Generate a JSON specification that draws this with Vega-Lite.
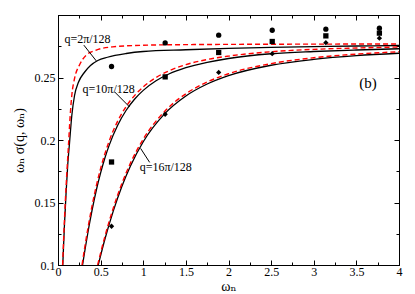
{
  "$schema": "https://vega.github.io/schema/vega-lite/v6.json",
  "width": 341,
  "height": 250,
  "autosize": "none",
  "padding": {"left": 58, "top": 15, "right": 16, "bottom": 29},
  "config": {
    "view": {"stroke": "black", "strokeWidth": 1},
    "font": "'Liberation Serif', 'Times New Roman', 'DejaVu Serif', serif",
    "axis": {"grid": false, "domainColor": "black", "tickColor": "black", "labelColor": "black", "titleColor": "black", "labelFont": "'Liberation Serif', 'Times New Roman', 'DejaVu Serif', serif", "titleFont": "'Liberation Serif', 'Times New Roman', 'DejaVu Serif', serif", "labelFontSize": 12, "titleFontSize": 14, "titleFontWeight": "normal"}
  },
  "datasets": {
    "curves": [
      {"q": "2", "k": "b", "w": 0.056, "v": 0.100},
      {"q": "2", "k": "b", "w": 0.075, "v": 0.131},
      {"q": "2", "k": "b", "w": 0.095, "v": 0.158},
      {"q": "2", "k": "b", "w": 0.115, "v": 0.181},
      {"q": "2", "k": "b", "w": 0.135, "v": 0.1975},
      {"q": "2", "k": "b", "w": 0.162, "v": 0.2196},
      {"q": "2", "k": "b", "w": 0.194, "v": 0.2356},
      {"q": "2", "k": "b", "w": 0.24, "v": 0.2462},
      {"q": "2", "k": "b", "w": 0.311, "v": 0.2542},
      {"q": "2", "k": "b", "w": 0.381, "v": 0.2596},
      {"q": "2", "k": "b", "w": 0.467, "v": 0.2636},
      {"q": "2", "k": "b", "w": 0.58, "v": 0.2662},
      {"q": "2", "k": "b", "w": 0.8, "v": 0.2692},
      {"q": "2", "k": "b", "w": 1.0, "v": 0.2708},
      {"q": "2", "k": "b", "w": 1.5, "v": 0.2722},
      {"q": "2", "k": "b", "w": 2.0, "v": 0.2733},
      {"q": "2", "k": "b", "w": 2.5, "v": 0.2741},
      {"q": "2", "k": "b", "w": 3.0, "v": 0.2747},
      {"q": "2", "k": "b", "w": 3.5, "v": 0.2752},
      {"q": "2", "k": "b", "w": 4.0, "v": 0.2756},
      {"q": "2", "k": "r", "w": 0.054, "v": 0.100},
      {"q": "2", "k": "r", "w": 0.075, "v": 0.135},
      {"q": "2", "k": "r", "w": 0.095, "v": 0.163},
      {"q": "2", "k": "r", "w": 0.11, "v": 0.181},
      {"q": "2", "k": "r", "w": 0.123, "v": 0.196},
      {"q": "2", "k": "r", "w": 0.143, "v": 0.2196},
      {"q": "2", "k": "r", "w": 0.162, "v": 0.2358},
      {"q": "2", "k": "r", "w": 0.194, "v": 0.2492},
      {"q": "2", "k": "r", "w": 0.252, "v": 0.2600},
      {"q": "2", "k": "r", "w": 0.331, "v": 0.2679},
      {"q": "2", "k": "r", "w": 0.448, "v": 0.2719},
      {"q": "2", "k": "r", "w": 0.639, "v": 0.2745},
      {"q": "2", "k": "r", "w": 1.0, "v": 0.2758},
      {"q": "2", "k": "r", "w": 1.5, "v": 0.2763},
      {"q": "2", "k": "r", "w": 2.0, "v": 0.2765},
      {"q": "2", "k": "r", "w": 3.0, "v": 0.2767},
      {"q": "2", "k": "r", "w": 4.0, "v": 0.2768},
      {"q": "10", "k": "b", "w": 0.288, "v": 0.100},
      {"q": "10", "k": "b", "w": 0.32, "v": 0.1136},
      {"q": "10", "k": "b", "w": 0.36, "v": 0.1296},
      {"q": "10", "k": "b", "w": 0.40, "v": 0.1440},
      {"q": "10", "k": "b", "w": 0.45, "v": 0.1600},
      {"q": "10", "k": "b", "w": 0.50, "v": 0.1737},
      {"q": "10", "k": "b", "w": 0.55, "v": 0.1856},
      {"q": "10", "k": "b", "w": 0.60, "v": 0.1957},
      {"q": "10", "k": "b", "w": 0.70, "v": 0.2118},
      {"q": "10", "k": "b", "w": 0.80, "v": 0.2238},
      {"q": "10", "k": "b", "w": 0.90, "v": 0.2328},
      {"q": "10", "k": "b", "w": 1.0, "v": 0.2397},
      {"q": "10", "k": "b", "w": 1.15, "v": 0.2474},
      {"q": "10", "k": "b", "w": 1.3, "v": 0.2528},
      {"q": "10", "k": "b", "w": 1.5, "v": 0.2579},
      {"q": "10", "k": "b", "w": 1.75, "v": 0.2621},
      {"q": "10", "k": "b", "w": 2.0, "v": 0.2652},
      {"q": "10", "k": "b", "w": 2.5, "v": 0.2690},
      {"q": "10", "k": "b", "w": 3.0, "v": 0.2708},
      {"q": "10", "k": "b", "w": 3.5, "v": 0.2720},
      {"q": "10", "k": "b", "w": 4.0, "v": 0.2730},
      {"q": "10", "k": "r", "w": 0.282, "v": 0.100},
      {"q": "10", "k": "r", "w": 0.32, "v": 0.1168},
      {"q": "10", "k": "r", "w": 0.36, "v": 0.1329},
      {"q": "10", "k": "r", "w": 0.40, "v": 0.1475},
      {"q": "10", "k": "r", "w": 0.45, "v": 0.1635},
      {"q": "10", "k": "r", "w": 0.50, "v": 0.1772},
      {"q": "10", "k": "r", "w": 0.55, "v": 0.1890},
      {"q": "10", "k": "r", "w": 0.60, "v": 0.1991},
      {"q": "10", "k": "r", "w": 0.70, "v": 0.2151},
      {"q": "10", "k": "r", "w": 0.80, "v": 0.2269},
      {"q": "10", "k": "r", "w": 0.90, "v": 0.2357},
      {"q": "10", "k": "r", "w": 1.0, "v": 0.2425},
      {"q": "10", "k": "r", "w": 1.15, "v": 0.2500},
      {"q": "10", "k": "r", "w": 1.3, "v": 0.2553},
      {"q": "10", "k": "r", "w": 1.5, "v": 0.2603},
      {"q": "10", "k": "r", "w": 1.75, "v": 0.2644},
      {"q": "10", "k": "r", "w": 2.0, "v": 0.2671},
      {"q": "10", "k": "r", "w": 2.5, "v": 0.2706},
      {"q": "10", "k": "r", "w": 3.0, "v": 0.2725},
      {"q": "10", "k": "r", "w": 3.5, "v": 0.2736},
      {"q": "10", "k": "r", "w": 4.0, "v": 0.2744},
      {"q": "16", "k": "b", "w": 0.472, "v": 0.100},
      {"q": "16", "k": "b", "w": 0.55, "v": 0.1206},
      {"q": "16", "k": "b", "w": 0.65, "v": 0.1435},
      {"q": "16", "k": "b", "w": 0.75, "v": 0.1630},
      {"q": "16", "k": "b", "w": 0.85, "v": 0.1792},
      {"q": "16", "k": "b", "w": 1.0, "v": 0.1986},
      {"q": "16", "k": "b", "w": 1.25, "v": 0.2209},
      {"q": "16", "k": "b", "w": 1.5, "v": 0.2352},
      {"q": "16", "k": "b", "w": 1.75, "v": 0.2448},
      {"q": "16", "k": "b", "w": 2.0, "v": 0.2515},
      {"q": "16", "k": "b", "w": 2.5, "v": 0.2598},
      {"q": "16", "k": "b", "w": 3.0, "v": 0.2645},
      {"q": "16", "k": "b", "w": 3.5, "v": 0.2675},
      {"q": "16", "k": "b", "w": 4.0, "v": 0.2694},
      {"q": "16", "k": "r", "w": 0.465, "v": 0.100},
      {"q": "16", "k": "r", "w": 0.55, "v": 0.1228},
      {"q": "16", "k": "r", "w": 0.65, "v": 0.1458},
      {"q": "16", "k": "r", "w": 0.75, "v": 0.1653},
      {"q": "16", "k": "r", "w": 0.85, "v": 0.1815},
      {"q": "16", "k": "r", "w": 1.0, "v": 0.2007},
      {"q": "16", "k": "r", "w": 1.25, "v": 0.2228},
      {"q": "16", "k": "r", "w": 1.5, "v": 0.2370},
      {"q": "16", "k": "r", "w": 1.75, "v": 0.2464},
      {"q": "16", "k": "r", "w": 2.0, "v": 0.2530},
      {"q": "16", "k": "r", "w": 2.5, "v": 0.2611},
      {"q": "16", "k": "r", "w": 3.0, "v": 0.2658},
      {"q": "16", "k": "r", "w": 3.5, "v": 0.2687},
      {"q": "16", "k": "r", "w": 4.0, "v": 0.2706}
    ],
    "points": [
      {"m": "c", "w": 0.628, "v": 0.2588},
      {"m": "c", "w": 1.257, "v": 0.2777},
      {"m": "c", "w": 1.885, "v": 0.2839},
      {"m": "c", "w": 2.513, "v": 0.2878},
      {"m": "c", "w": 3.142, "v": 0.2887},
      {"m": "c", "w": 3.770, "v": 0.2894},
      {"m": "s", "w": 0.628, "v": 0.1824},
      {"m": "s", "w": 1.257, "v": 0.2505},
      {"m": "s", "w": 1.885, "v": 0.2700},
      {"m": "s", "w": 2.513, "v": 0.2788},
      {"m": "s", "w": 3.142, "v": 0.2833},
      {"m": "s", "w": 3.770, "v": 0.2855},
      {"m": "d", "w": 0.628, "v": 0.1310},
      {"m": "d", "w": 1.257, "v": 0.2206},
      {"m": "d", "w": 1.885, "v": 0.2541},
      {"m": "d", "w": 2.513, "v": 0.2691},
      {"m": "d", "w": 3.142, "v": 0.2779},
      {"m": "d", "w": 3.770, "v": 0.2815}
    ],
    "labels": [
      {"t": "q=2π/128", "w": 0.075, "v": 0.2807},
      {"t": "q=10π/128", "w": 0.288, "v": 0.2406},
      {"t": "q=16π/128", "w": 0.958, "v": 0.1784}
    ],
    "leaders": [
      {"w": 0.303, "v": 0.2759, "w2": 0.449, "v2": 0.2633},
      {"w": 0.664, "v": 0.2385, "w2": 0.84, "v2": 0.2264},
      {"w": 0.969, "v": 0.1933, "w2": 1.075, "v2": 0.1821}
    ],
    "panel": [
      {"t": "(b)", "w": 3.637, "v": 0.2457}
    ]
  },
  "layer": [
    {
      "data": {"name": "curves"},
      "transform": [{"filter": "datum.k === 'b'"}],
      "mark": {"type": "line", "color": "black", "strokeWidth": 1.3, "clip": true, "interpolate": "monotone"},
      "encoding": {
        "x": {"field": "w", "type": "quantitative", "scale": {"domain": [0, 4], "nice": false, "zero": false},
          "axis": {"orient": "bottom", "title": "ωₙ", "values": [0,0.25,0.5,0.75,1,1.25,1.5,1.75,2,2.25,2.5,2.75,3,3.25,3.5,3.75,4],
            "tickSize": {"condition": {"test": "abs(datum.value*2 - round(datum.value*2)) < 0.001", "value": -5}, "value": -3},
            "labelExpr": "abs(datum.value*2 - round(datum.value*2)) < 0.001 ? format(datum.value, '~g') : ''",
            "labelPadding": 6, "titlePadding": 2, "labelFlush": false}},
        "y": {"field": "v", "type": "quantitative", "scale": {"domain": [0.1, 0.3], "nice": false, "zero": false},
          "axis": {"orient": "left", "title": "ωₙ σ(q, ωₙ)", "values": [0.1,0.125,0.15,0.175,0.2,0.225,0.25,0.275,0.3],
            "tickSize": {"condition": {"test": "abs(datum.value*20 - round(datum.value*20)) < 0.001", "value": -5}, "value": -3},
            "labelExpr": "abs(datum.value*20 - round(datum.value*20)) < 0.001 && datum.value < 0.29 ? format(datum.value, '~g') : ''",
            "labelPadding": 8, "titlePadding": 8, "labelFlush": false}},
        "detail": {"field": "q"}
      }
    },
    {
      "data": {"name": "curves"},
      "transform": [{"filter": "datum.k === 'r'"}],
      "mark": {"type": "line", "color": "#ff0000", "strokeWidth": 1.4, "strokeDash": [5, 3], "clip": true, "interpolate": "monotone"},
      "encoding": {
        "x": {"field": "w", "type": "quantitative", "axis": null},
        "y": {"field": "v", "type": "quantitative", "axis": null},
        "detail": {"field": "q"}
      }
    },
    {
      "data": {"name": "points"},
      "mark": {"type": "point", "filled": true, "color": "black", "opacity": 1, "size": 28},
      "encoding": {
        "x": {"field": "w", "type": "quantitative",
          "axis": {"orient": "top", "title": null, "labels": false, "values": [0,0.25,0.5,0.75,1,1.25,1.5,1.75,2,2.25,2.5,2.75,3,3.25,3.5,3.75,4],
            "tickSize": {"condition": {"test": "abs(datum.value*2 - round(datum.value*2)) < 0.001", "value": -5}, "value": -3}}},
        "y": {"field": "v", "type": "quantitative",
          "axis": {"orient": "right", "title": null, "labels": false, "values": [0.1,0.125,0.15,0.175,0.2,0.225,0.25,0.275,0.3],
            "tickSize": {"condition": {"test": "abs(datum.value*20 - round(datum.value*20)) < 0.001", "value": -5}, "value": -3}}},
        "shape": {"field": "m", "type": "nominal", "scale": {"domain": ["c", "s", "d"], "range": ["circle", "square", "diamond"]}, "legend": null}
      }
    },
    {
      "data": {"name": "leaders"},
      "mark": {"type": "rule", "color": "black", "strokeWidth": 1},
      "encoding": {
        "x": {"field": "w", "type": "quantitative", "axis": null},
        "y": {"field": "v", "type": "quantitative", "axis": null},
        "x2": {"field": "w2"},
        "y2": {"field": "v2"}
      }
    },
    {
      "data": {"name": "labels"},
      "mark": {"type": "text", "align": "left", "baseline": "middle", "fontSize": 12, "color": "black"},
      "encoding": {
        "x": {"field": "w", "type": "quantitative", "axis": null},
        "y": {"field": "v", "type": "quantitative", "axis": null},
        "text": {"field": "t"}
      }
    },
    {
      "data": {"name": "panel"},
      "mark": {"type": "text", "align": "center", "baseline": "middle", "fontSize": 15, "color": "black"},
      "encoding": {
        "x": {"field": "w", "type": "quantitative", "axis": null},
        "y": {"field": "v", "type": "quantitative", "axis": null},
        "text": {"field": "t"}
      }
    }
  ],
  "resolve": {"axis": {"x": "independent", "y": "independent"}}
}
